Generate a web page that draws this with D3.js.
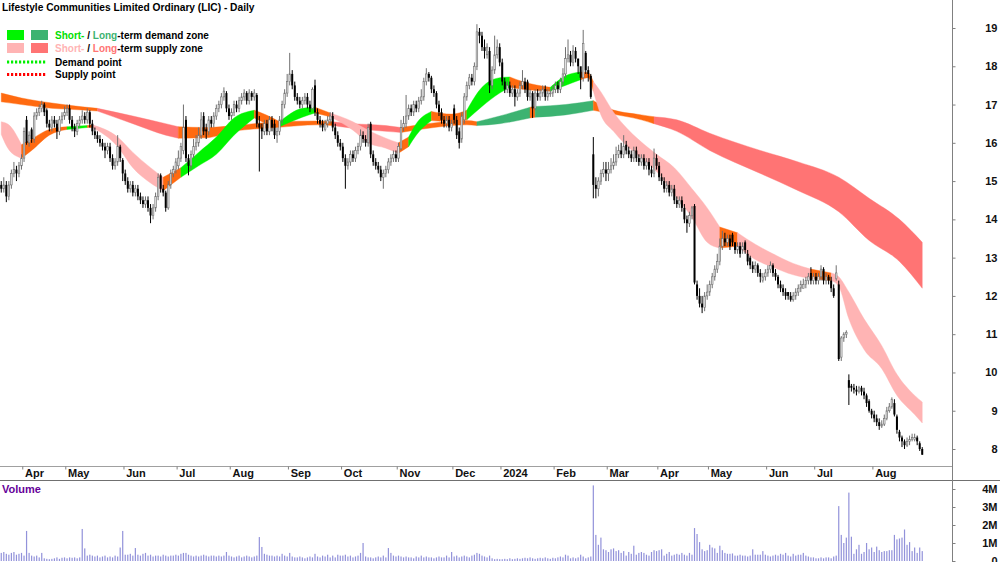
<!DOCTYPE html>
<html>
<head>
<meta charset="utf-8">
<script src="https://cdn.jsdelivr.net/npm/d3@7"></script>
<style>
body { margin: 0; background: #fff; }
text { font-family: "Liberation Sans", Arial, sans-serif; }
</style>
</head>
<body>
<script>
// ASX trading days shown on the chart
var firstDay = "2023-03-21", lastDay = "2024-08-28";
var holidays = ["2023-04-07","2023-04-10","2023-04-25","2023-06-12","2023-12-25","2023-12-26",
                "2024-01-01","2024-01-26","2024-03-29","2024-04-01","2024-04-25","2024-06-10"];
var monthNames = ["Jan","Feb","Mar","Apr","May","Jun","Jul","Aug","Sep","Oct","Nov","Dec"];
var priceTicks = [8, 9, 10, 11, 12, 13, 14, 15, 16, 17, 18, 19];
var volumeTicks = [0, 1, 2, 3, 4];

var openV = [
 14.9,14.8,14.9,14.6,14.9,15.2,15.3,15.2,15.4,
 15.6,16.6,16.0,16.35,16.1,16.7,16.8,16.9,17.0,16.85,16.5,16.4,16.6,16.5,16.3,16.6,16.7,
 16.8,16.9,16.6,16.4,16.3,16.5,16.6,16.7,16.6,16.8,16.5,16.3,16.2,16.1,16.0,15.9,15.8,15.9,15.6,15.4,15.5,15.9,15.55,
 15.2,15.0,14.8,14.9,14.7,14.8,14.6,14.5,14.4,14.5,14.3,14.1,14.3,14.6,15.15,14.8,14.7,14.3,14.9,15.2,15.3,
 15.4,15.6,15.8,16.6,15.6,15.4,15.7,15.9,16.0,16.2,16.7,16.35,16.3,16.6,16.5,16.7,16.9,17.0,17.2,17.3,16.9,
 16.7,16.8,17.0,16.9,17.1,17.2,17.3,17.1,17.3,17.2,17.25,16.5,16.4,16.3,16.5,16.3,16.6,16.5,16.2,16.3,16.6,17.0,17.3,
 17.6,17.8,17.5,17.2,17.1,17.0,17.1,17.2,17.0,16.9,17.5,16.8,16.6,16.5,16.35,16.5,16.6,16.7,16.4,16.2,16.0,
 15.9,15.6,15.4,15.5,15.7,15.6,15.8,15.9,16.2,16.1,16.0,16.5,15.7,15.5,15.4,15.3,15.1,15.2,15.3,15.5,15.6,15.7,
 15.6,15.85,16.4,16.5,16.7,16.9,16.8,17.0,16.9,17.1,17.2,17.6,17.8,17.7,17.4,17.3,17.0,16.8,16.6,16.5,16.6,16.4,
 16.9,16.6,16.3,16.1,16.6,17.2,17.5,17.7,17.6,18.0,18.9,18.8,18.5,18.3,18.4,17.5,17.9,18.3,18.5,
 18.1,17.6,17.4,17.5,17.3,17.4,17.2,17.3,17.5,17.6,17.6,17.2,17.3,16.9,17.3,17.2,17.3,17.4,17.2,17.3,17.3,
 17.4,17.5,17.4,17.6,17.8,18.2,18.3,18.1,18.4,18.2,18.0,17.7,18.35,17.9,17.75,15.7,14.9,14.8,15.0,15.2,15.3,
 15.2,15.3,15.4,15.5,15.7,15.8,15.7,15.95,15.8,15.7,15.6,15.8,15.6,15.5,15.6,15.4,15.5,15.3,15.2,15.6,
 15.4,15.1,15.0,14.8,14.9,14.7,14.8,14.5,14.4,14.5,14.3,14.0,13.9,14.1,14.35,12.3,12.0,11.8,11.7,12.0,
 12.1,12.3,12.5,12.7,12.9,13.3,13.5,13.4,13.5,13.6,13.4,13.2,13.3,13.2,13.4,13.1,13.0,12.8,12.7,12.8,12.6,12.4,12.5,
 12.6,12.7,12.8,12.6,12.5,12.3,12.2,12.1,12.1,12.0,11.9,12.0,12.1,12.2,12.2,12.3,12.4,12.6,12.4,
 12.5,12.4,12.5,12.7,12.4,12.5,12.4,12.2,12.45,12.3,10.4,10.9,11.0,9.8,9.65,9.6,9.55,9.5,9.6,9.5,9.4,9.25,9.0,
 8.9,8.8,8.7,8.6,8.65,8.8,9.0,9.1,9.2,8.85,8.45,8.3,8.2,8.1,8.2,8.25,8.25,8.3,8.15,8.0
];
var highV = [
 15.0,15.1,15.0,15.0,15.3,15.5,15.4,15.5,15.7,
 16.4,16.7,16.3,16.4,16.8,16.9,17.0,17.1,17.05,16.9,16.6,16.7,16.7,16.6,16.7,16.8,16.95,
 17.0,17.0,16.7,16.5,16.6,16.7,16.85,16.8,16.9,16.85,16.6,16.4,16.3,16.2,16.1,16.0,16.0,16.0,15.7,15.6,16.2,15.95,15.6,
 15.3,15.1,15.0,15.0,14.9,14.9,14.7,14.6,14.6,14.6,14.4,14.4,14.7,15.2,15.2,14.9,14.75,15.0,15.3,15.4,15.6,
 15.8,16.0,17.0,16.7,15.7,15.8,16.1,16.2,16.4,16.8,16.8,16.5,16.7,16.7,16.8,17.0,17.1,17.3,17.45,17.35,17.0,
 16.9,17.1,17.1,17.2,17.3,17.4,17.35,17.4,17.35,17.4,17.3,16.7,16.5,16.6,16.6,16.7,16.7,16.6,16.4,16.7,17.1,17.4,17.8,
 18.35,17.9,17.6,17.3,17.2,17.2,17.3,17.3,17.1,17.45,17.65,16.9,16.7,16.6,16.6,16.7,16.8,16.8,16.5,16.3,16.1,
 16.0,15.7,15.6,15.8,15.8,15.9,16.0,16.35,16.3,16.2,16.5,16.55,15.8,15.6,15.5,15.4,15.3,15.4,15.6,15.7,15.8,15.8,
 16.0,16.6,16.7,17.25,17.0,17.0,17.1,17.1,17.2,17.4,17.7,17.95,17.85,17.75,17.5,17.35,17.1,16.9,16.7,16.7,16.7,16.6,
 17.0,16.7,16.4,16.8,17.3,17.6,17.8,17.8,18.1,19.1,19.0,18.9,18.7,18.6,18.5,18.0,18.8,18.7,18.6,
 18.2,17.7,17.6,17.6,17.5,17.5,17.4,17.6,17.9,17.7,17.65,17.4,17.35,17.4,17.4,17.4,17.5,17.5,17.4,17.4,17.5,
 17.6,17.6,17.7,17.95,18.5,18.7,18.4,18.55,18.5,18.2,17.9,18.95,18.4,18.0,17.8,16.15,15.1,15.1,15.3,15.5,15.5,
 15.5,15.6,15.7,15.9,15.95,16.0,16.2,16.05,15.9,15.8,15.9,15.9,15.7,15.7,15.7,15.6,15.6,15.4,15.85,15.7,
 15.5,15.2,15.1,15.0,15.0,14.9,14.9,14.6,14.6,14.6,14.4,14.1,14.2,14.35,14.4,12.4,12.2,12.0,12.1,12.3,
 12.4,12.6,12.8,13.1,13.5,13.7,13.65,13.6,13.6,13.65,13.4,13.4,13.4,13.4,13.45,13.2,13.05,12.9,12.9,12.85,12.7,12.6,12.7,
 12.8,12.9,12.85,12.7,12.55,12.4,12.3,12.2,12.1,12.1,12.1,12.2,12.3,12.4,12.45,12.5,12.6,12.75,12.6,
 12.6,12.6,12.8,12.75,12.6,12.55,12.5,12.3,12.8,12.4,10.95,11.05,11.1,9.95,9.7,9.7,9.65,9.65,9.65,9.6,9.45,9.3,9.05,
 9.0,8.9,8.8,8.75,8.9,9.1,9.2,9.35,9.3,8.9,8.5,8.35,8.25,8.3,8.35,8.4,8.4,8.35,8.2,8.05
];
var lowV = [
 14.7,14.7,14.45,14.5,14.8,15.1,15.0,15.1,15.3,
 15.5,15.95,15.9,16.0,16.0,16.6,16.7,16.8,16.7,16.4,16.3,16.3,16.4,16.1,16.2,16.5,16.6,
 16.7,16.5,16.3,16.15,16.2,16.4,16.5,16.5,16.5,16.4,16.2,16.1,16.0,15.9,15.8,15.6,15.7,15.5,15.3,15.3,15.4,15.5,15.0,
 14.9,14.7,14.7,14.6,14.6,14.5,14.4,14.3,14.3,14.2,13.9,14.0,14.2,14.5,14.7,14.6,14.2,14.25,14.8,15.1,15.2,
 15.3,15.5,15.7,15.5,15.15,15.3,15.6,15.8,15.9,16.1,16.2,16.1,16.2,16.4,16.4,16.6,16.8,16.9,17.1,16.8,16.6,
 16.6,16.7,16.8,16.8,17.0,17.1,17.0,17.0,17.1,17.1,16.4,15.25,16.1,16.2,16.2,16.2,16.3,16.1,16.0,16.2,16.5,16.9,17.2,
 17.5,17.4,17.1,17.0,16.9,16.9,17.0,16.9,16.8,16.85,16.7,16.5,16.4,16.3,16.3,16.4,16.5,16.3,16.1,15.9,15.8,
 15.5,14.8,15.3,15.4,15.5,15.5,15.7,15.8,16.0,15.9,15.9,15.6,15.4,15.3,15.2,15.0,14.8,15.1,15.2,15.4,15.5,15.5,
 15.5,15.8,16.3,16.4,16.6,16.7,16.7,16.8,16.8,17.0,17.1,17.5,17.6,17.3,17.2,16.9,16.7,16.5,16.4,16.4,16.3,16.3,
 16.5,16.1,15.85,16.0,16.5,17.1,17.4,17.5,17.5,17.9,18.6,18.4,18.2,18.2,17.3,17.4,17.8,18.2,18.0,
 17.5,17.3,17.3,17.2,17.2,16.95,17.1,17.2,17.4,17.3,17.1,17.1,16.65,16.85,17.1,17.1,17.2,17.1,17.1,17.2,17.2,
 17.3,17.3,17.3,17.5,17.7,18.1,18.0,18.0,18.1,17.8,17.4,17.6,17.8,17.6,17.15,14.55,14.55,14.6,14.9,15.1,15.0,
 15.0,15.2,15.3,15.4,15.6,15.6,15.6,15.7,15.6,15.5,15.5,15.5,15.4,15.4,15.3,15.3,15.15,15.1,15.1,15.3,
 15.0,14.9,14.7,14.7,14.6,14.6,14.4,14.3,14.3,14.2,13.9,13.65,13.8,14.0,12.3,11.9,11.7,11.55,11.6,11.9,
 12.0,12.2,12.4,12.6,12.8,13.2,13.3,13.3,13.2,13.3,13.1,13.1,13.0,13.1,13.1,12.8,12.7,12.6,12.6,12.5,12.35,12.35,12.4,
 12.5,12.6,12.5,12.4,12.2,12.1,12.0,11.9,11.9,11.85,11.85,11.9,12.0,12.1,12.2,12.2,12.3,12.3,12.3,
 12.3,12.3,12.4,12.3,12.3,12.3,12.1,11.95,12.4,10.3,10.3,10.8,10.9,9.15,9.5,9.45,9.4,9.45,9.4,9.3,9.1,8.95,8.8,
 8.7,8.6,8.5,8.55,8.6,8.75,8.95,9.05,8.85,8.4,8.2,8.05,8.0,8.05,8.1,8.2,8.2,8.1,7.95,7.85
];
var closeV = [
 14.8,14.9,14.6,14.9,15.2,15.3,15.2,15.4,15.6,
 16.3,16.0,16.2,16.1,16.7,16.8,16.9,17.0,16.8,16.5,16.4,16.6,16.5,16.3,16.6,16.7,16.8,
 16.9,16.6,16.4,16.3,16.5,16.6,16.7,16.6,16.8,16.5,16.3,16.2,16.1,16.0,15.9,15.8,15.9,15.6,15.4,15.5,15.9,15.6,15.2,
 15.0,14.8,14.9,14.7,14.8,14.6,14.5,14.4,14.5,14.3,14.1,14.3,14.6,15.1,14.8,14.7,14.3,14.9,15.2,15.3,15.5,
 15.6,15.9,16.4,15.6,15.4,15.7,15.9,16.0,16.2,16.6,16.3,16.3,16.6,16.5,16.7,16.9,17.0,17.2,17.35,16.9,16.7,
 16.8,17.0,16.9,17.1,17.2,17.3,17.1,17.3,17.2,17.3,16.5,16.4,16.3,16.5,16.3,16.6,16.4,16.2,16.3,16.6,17.0,17.3,17.6,
 17.8,17.5,17.2,17.1,17.0,17.1,17.2,17.0,16.9,17.4,16.8,16.6,16.5,16.4,16.5,16.6,16.7,16.4,16.2,16.0,15.9,
 15.6,15.4,15.5,15.7,15.6,15.8,15.9,16.2,16.1,16.0,16.4,15.7,15.5,15.4,15.3,15.1,15.2,15.3,15.5,15.6,15.7,15.6,
 15.9,16.4,16.5,16.7,16.9,16.8,17.0,16.9,17.1,17.2,17.6,17.8,17.7,17.4,17.3,17.0,16.8,16.6,16.5,16.6,16.4,16.5,
 16.6,16.2,16.0,16.7,17.2,17.5,17.7,17.6,18.0,18.9,18.8,18.5,18.4,18.5,17.5,17.9,18.3,18.5,18.1,
 17.6,17.4,17.5,17.3,17.4,17.2,17.3,17.5,17.6,17.4,17.2,17.3,16.9,17.3,17.2,17.3,17.4,17.2,17.3,17.3,17.4,
 17.5,17.4,17.6,17.8,18.2,18.3,18.1,18.4,18.2,18.0,17.7,18.6,17.9,17.8,17.2,14.9,14.8,15.0,15.2,15.3,15.2,
 15.3,15.4,15.5,15.7,15.8,15.7,15.9,15.8,15.7,15.6,15.8,15.6,15.5,15.6,15.4,15.5,15.3,15.2,15.6,15.4,
 15.1,15.0,14.8,14.9,14.7,14.8,14.5,14.4,14.5,14.3,14.0,13.9,14.1,14.3,12.35,12.0,11.8,11.7,12.0,12.1,
 12.3,12.5,12.7,12.9,13.3,13.5,13.4,13.5,13.3,13.4,13.2,13.3,13.1,13.3,13.2,12.9,12.8,12.7,12.8,12.6,12.5,12.5,12.6,
 12.7,12.8,12.6,12.5,12.3,12.2,12.1,12.0,12.0,11.9,12.0,12.1,12.2,12.3,12.3,12.4,12.5,12.4,12.5,
 12.4,12.5,12.7,12.4,12.5,12.4,12.2,12.0,12.6,10.35,10.9,11.0,11.05,9.6,9.6,9.55,9.5,9.6,9.5,9.4,9.2,9.0,8.9,
 8.8,8.7,8.6,8.65,8.8,9.0,9.1,9.3,8.9,8.5,8.3,8.2,8.1,8.2,8.25,8.3,8.3,8.2,8.0,7.85
];
// volume in millions of shares
var volumeV = [
 0.45,0.5,0.4,0.35,0.45,0.5,0.35,0.4,0.45,
 0.3,1.67,0.45,0.3,0.25,0.3,0.2,0.45,0.15,0.12,0.1,0.12,0.15,0.2,0.12,0.18,0.2,
 0.15,0.2,0.18,0.2,0.15,0.2,1.78,0.7,0.3,0.35,0.3,0.25,0.3,0.2,0.25,0.3,0.2,0.25,0.2,0.3,0.25,0.75,1.67,
 0.35,0.35,0.4,0.3,0.72,0.35,0.3,0.4,0.45,0.3,0.35,0.25,0.3,0.3,0.25,0.35,0.3,0.25,0.3,0.3,0.35,
 0.3,0.4,0.45,0.45,0.35,0.3,0.25,0.3,0.25,0.3,0.35,0.3,0.25,0.3,0.3,0.25,0.3,0.25,0.3,0.5,0.3,
 0.25,0.2,0.25,0.3,0.2,0.25,0.3,0.25,0.2,0.25,0.3,1.33,0.78,0.4,0.35,0.3,0.3,0.25,0.3,0.25,0.4,0.3,0.25,
 0.45,0.25,0.2,0.2,0.25,0.2,0.15,0.2,0.25,0.2,0.4,0.25,0.2,0.3,0.25,0.35,0.2,0.3,0.2,0.35,0.3,
 0.3,0.35,0.25,0.3,0.2,0.25,0.3,0.45,1.0,0.25,0.2,0.2,0.15,0.2,0.25,0.2,0.3,0.2,0.72,0.45,0.3,0.25,
 0.3,0.25,0.2,0.25,0.2,0.2,0.15,0.25,0.2,0.3,0.2,0.25,0.2,0.2,0.15,0.2,0.25,0.2,0.2,0.3,0.2,0.5,
 0.25,0.3,0.2,0.25,0.3,0.25,0.2,0.3,0.35,0.45,0.4,0.3,0.25,0.2,0.3,0.15,0.1,0.12,0.1,
 0.1,0.12,0.1,0.15,0.1,0.12,0.15,0.12,0.15,0.18,0.15,0.2,0.15,0.12,0.15,0.18,0.15,0.2,0.15,0.12,0.18,
 0.15,0.2,0.25,0.2,0.35,0.3,0.15,0.2,0.15,0.2,0.35,0.25,0.15,0.2,0.25,4.2,1.45,0.9,1.3,0.65,0.6,
 0.5,0.65,0.7,0.55,0.6,0.45,0.55,0.3,0.5,0.4,0.85,0.35,0.45,0.5,0.45,0.35,0.3,0.5,0.6,0.55,
 0.6,0.65,0.3,0.4,0.5,0.3,0.35,0.4,0.35,0.45,0.35,0.3,0.45,0.35,1.83,1.5,1.05,0.65,0.55,0.6,
 0.9,0.75,0.7,0.45,0.85,0.6,0.45,0.4,0.4,0.42,0.3,0.3,0.35,0.3,0.3,0.25,0.3,0.65,0.35,0.35,0.35,0.55,0.35,
 0.3,0.25,0.3,0.35,0.3,0.4,0.35,0.45,0.3,0.25,0.4,0.3,0.35,0.35,0.45,0.3,0.25,0.2,0.2,
 0.15,0.15,0.2,0.15,0.2,0.2,0.15,0.25,0.3,3.05,1.45,1.0,1.3,3.8,1.35,0.4,0.65,0.9,0.4,0.5,1.0,0.65,0.75,
 0.5,0.8,0.6,0.5,0.55,0.55,0.6,0.6,1.45,1.2,1.25,1.3,1.75,0.9,1.05,0.55,0.75,0.45,0.75,0.55
];

// zone edges read at chosen bars; state d = demand, s = supply, n = neutral
var stBar    = [0,3,8,12,19,26,34,36,46,52,59,64,71,78,85,92,100,105,110,119,124,130,139,145,152,157,161,164,170,178,184,190,197,201,206,217,223,229,232,234,237,242,246,253,259,266,273,279,284,291,298,305,313,320,328,331,335,341,348,354,361,364];
var stTop    = [16.55,16.47,15.95,16.1,16.35,16.42,16.45,16.47,16.15,15.75,15.35,15.1,15.35,15.75,16.15,16.65,16.85,16.72,16.55,16.9,16.93,16.78,16.55,16.33,16.12,16.0,16.15,16.5,16.82,16.75,16.85,17.45,17.7,17.72,17.6,17.45,17.75,17.85,17.83,17.6,17.33,16.8,16.47,16.02,15.7,15.35,14.8,14.3,13.8,13.65,13.35,13.1,12.85,12.7,12.6,12.5,12.1,11.4,10.7,9.95,9.4,9.23];
var stBottom = [16.22,15.82,15.6,15.8,16.2,16.35,16.4,16.4,15.9,15.35,14.95,14.75,15.1,15.4,15.7,16.2,16.65,16.5,16.42,16.67,16.78,16.68,16.33,16.0,15.86,15.73,15.9,16.2,16.58,16.55,16.6,16.95,17.3,17.45,17.4,17.35,17.5,17.65,17.7,17.35,16.73,16.3,16.0,15.6,15.25,14.65,14.05,13.4,13.25,13.3,12.95,12.75,12.55,12.45,12.4,12.25,11.4,10.6,10.1,9.4,8.9,8.68];
var stState  = ["s","s","n","n","n","d","n","s","s","s","s","n","d","d","d","d","n","n","d","d","n","s","s","s","s","n","d","d","n","n","d","d","d","n","n","d","d","n","n","s","s","s","s","s","s","s","s","s","n","s","s","s","s","n","s","s","s","s","s","s","s","s"];

var ltBar    = [0,8,20,32,38,52,65,70,81,92,109,125,131,139,152,158,171,184,188,197,209,211,223,234,240,253,258,267,280,300,315,331,343,355,364];
var ltTop    = [17.3,17.17,17.04,16.94,16.9,16.7,16.5,16.42,16.4,16.45,16.55,16.57,16.55,16.5,16.45,16.4,16.52,16.58,16.55,16.7,16.93,16.95,17.0,17.1,16.9,16.73,16.68,16.6,16.25,15.8,15.5,15.1,14.55,14.0,13.4];
var ltBottom = [17.07,17.0,16.9,16.86,16.83,16.5,16.2,16.12,16.13,16.3,16.4,16.47,16.45,16.38,16.3,16.27,16.4,16.47,16.45,16.5,16.65,16.67,16.73,16.85,16.77,16.6,16.5,16.3,15.8,15.2,14.75,14.2,13.45,12.9,12.2];
var ltState  = ["n","n","n","n","s","s","s","n","n","n","n","n","s","s","s","n","n","n","d","d","n","d","d","n","n","n","s","s","s","s","s","s","s","s","s"];

var stColors = { d: "#00f400", s: "#ffb4b4", n: "#ff6a10" };
var ltColors = { d: "#3cb371", s: "#ff7474", n: "#ff6a10" };

// ---- trading calendar ----
var holidaySet = new Set(holidays);
var dates = [];
for (var d = new Date(firstDay + "T00:00:00Z"); d <= new Date(lastDay + "T00:00:00Z"); d.setUTCDate(d.getUTCDate() + 1)) {
  var wd = d.getUTCDay(), key = d.toISOString().slice(0, 10);
  if (wd > 0 && wd < 6 && !holidaySet.has(key)) dates.push(key);
}
if (dates.length !== closeV.length) console.error("bars", dates.length, closeV.length);

var bars = dates.map(function(dt, i) {
  return { date: dt, i: i, o: openV[i], h: highV[i], l: lowV[i], c: closeV[i], v: volumeV[i] };
});
var monthStarts = dates.filter(function(dt, i) { return i > 0 && dt.slice(5, 7) !== dates[i - 1].slice(5, 7); });

// ---- layout ----
var WIDTH = 1000, HEIGHT = 562, AXIS_X = 952;

var svg = d3.select("body").append("svg")
  .attr("width", WIDTH).attr("height", HEIGHT)
  .style("display", "block");

var x = d3.scaleBand().domain(dates).range([0, 923.5]);
var xc = function(i) { return x(dates[i]) + x.bandwidth() / 2; };
var yP = d3.scaleLinear().domain([8, 19]).range([449, 28]);
var yV = d3.scaleLinear().domain([0, 4]).range([561, 489]);

// zones
function drawZone(g, idx, top, bot, state, colors) {
  var area = d3.area()
    .x(function(p) { return xc(p.i); })
    .y0(function(p) { return yP(p.b); })
    .y1(function(p) { return yP(p.t); })
    .curve(d3.curveMonotoneX);
  var n = idx.length, k = 0;
  while (k < n - 1) {
    var j = k;
    while (j + 1 < n - 1 && state[j + 1] === state[k]) j++;
    var pts = d3.range(k, j + 2).map(function(m) { return { i: idx[m], t: top[m], b: bot[m] }; });
    g.append("path").datum(pts).attr("d", area)
      .attr("fill", colors[state[k]]).attr("stroke", colors[state[k]]).attr("stroke-width", 0.4);
    k = j + 1;
  }
}
var zones = svg.append("g");
drawZone(zones, ltBar, ltTop, ltBottom, ltState, ltColors);
drawZone(zones, stBar, stTop, stBottom, stState, stColors);

// candles
var candles = svg.append("g");
candles.selectAll("line").data(bars).enter().append("line")
  .attr("x1", function(b) { return xc(b.i); }).attr("x2", function(b) { return xc(b.i); })
  .attr("y1", function(b) { return yP(b.h); }).attr("y2", function(b) { return yP(b.l); })
  .attr("stroke", function(b) { return b.c >= b.o ? "#707070" : "#000"; })
  .attr("stroke-width", 1);
candles.selectAll("rect").data(bars).enter().append("rect")
  .attr("x", function(b) { return xc(b.i) - (b.c >= b.o ? 0.8 : 1); })
  .attr("width", function(b) { return b.c >= b.o ? 1.6 : 2; })
  .attr("y", function(b) { return yP(Math.max(b.o, b.c)); })
  .attr("height", function(b) { return Math.max(0.8, Math.abs(yP(b.o) - yP(b.c))); })
  .attr("fill", function(b) { return b.c >= b.o ? "#e4e4e4" : "#000"; })
  .attr("stroke", function(b) { return b.c >= b.o ? "#707070" : "none"; })
  .attr("stroke-width", 0.6);

// volume
svg.append("g").selectAll("rect").data(bars).enter().append("rect")
  .attr("x", function(b) { return xc(b.i) - 0.6; })
  .attr("width", 1.2)
  .attr("y", function(b) { return yV(b.v); })
  .attr("height", function(b) { return yV(0) - yV(b.v); })
  .attr("fill", "#9292da");

// frame lines
svg.append("line").attr("x1", 0).attr("x2", AXIS_X).attr("y1", 466.5).attr("y2", 466.5).attr("stroke", "#a0a0a0");
svg.append("line").attr("x1", 0).attr("x2", WIDTH).attr("y1", 480.5).attr("y2", 480.5).attr("stroke", "#707070");
svg.append("line").attr("x1", AXIS_X + 0.5).attr("x2", AXIS_X + 0.5).attr("y1", 0).attr("y2", HEIGHT).attr("stroke", "#808080");

// axes
var xAxis = svg.append("g").attr("transform", "translate(0,466.5)")
  .call(d3.axisBottom(x).tickValues(monthStarts).tickSize(3).tickPadding(0)
    .tickFormat(function(dt) { var m = +dt.slice(5, 7); return m === 1 ? dt.slice(0, 4) : monthNames[m - 1]; }));
xAxis.select(".domain").remove();
xAxis.selectAll(".tick line").attr("stroke", "#808080").attr("transform", "translate(" + (-x.bandwidth() / 2) + ",0)");
xAxis.selectAll(".tick text").attr("text-anchor", "start").attr("dx", 1)
  .style("font-size", "11px").style("font-weight", "bold").attr("fill", "#111");

var pAxis = svg.append("g").attr("transform", "translate(" + (AXIS_X + 0.5) + ",0)")
  .call(d3.axisRight(yP).tickValues(priceTicks).tickSize(3).tickFormat(d3.format("d")));
var vAxis = svg.append("g").attr("transform", "translate(" + (AXIS_X + 0.5) + ",0)")
  .call(d3.axisRight(yV).tickValues(volumeTicks).tickSize(3)
    .tickFormat(function(v) { return v === 0 ? "0" : v + "M"; }));
[pAxis, vAxis].forEach(function(a) {
  a.select(".domain").remove();
  a.selectAll(".tick line").attr("stroke", "#808080");
  a.selectAll(".tick text").attr("text-anchor", "end").attr("x", 45)
    .style("font-size", "11px").style("font-weight", "bold").attr("fill", "#111");
});

// title and legend
svg.append("text").attr("x", 2).attr("y", 11)
  .style("font-size", "10.2px").style("font-weight", "bold").text("Lifestyle Communities Limited Ordinary (LIC) - Daily");

var legend = svg.append("g").style("font-size", "10px").style("font-weight", "bold");
legend.append("rect").attr("x", 7).attr("y", 30).attr("width", 17).attr("height", 10).attr("fill", stColors.d);
legend.append("rect").attr("x", 31).attr("y", 30).attr("width", 17).attr("height", 10).attr("fill", ltColors.d);
legend.append("rect").attr("x", 7).attr("y", 43).attr("width", 17).attr("height", 10).attr("fill", stColors.s);
legend.append("rect").attr("x", 31).attr("y", 43).attr("width", 17).attr("height", 10).attr("fill", ltColors.s);
var t1 = legend.append("text").attr("x", 55).attr("y", 39);
t1.append("tspan").attr("fill", "#00e000").text("Short-");
t1.append("tspan").text(" / ");
t1.append("tspan").attr("fill", ltColors.d).text("Long");
t1.append("tspan").text("-term demand zone");
var t2 = legend.append("text").attr("x", 55).attr("y", 52);
t2.append("tspan").attr("fill", stColors.s).text("Short-");
t2.append("tspan").text(" / ");
t2.append("tspan").attr("fill", ltColors.s).text("Long");
t2.append("tspan").text("-term supply zone");
legend.append("line").attr("x1", 7).attr("x2", 47).attr("y1", 62).attr("y2", 62)
  .attr("stroke", "#00f000").attr("stroke-width", 3).attr("stroke-dasharray", "2.2,1.8");
legend.append("text").attr("x", 55).attr("y", 66).text("Demand point");
legend.append("line").attr("x1", 7).attr("x2", 47).attr("y1", 74.5).attr("y2", 74.5)
  .attr("stroke", "#ff0000").attr("stroke-width", 3).attr("stroke-dasharray", "2.2,1.8");
legend.append("text").attr("x", 55).attr("y", 78).text("Supply point");

svg.append("text").attr("x", 2).attr("y", 493).attr("fill", "#660099")
  .style("font-size", "11px").style("font-weight", "bold").text("Volume");
</script>
</body>
</html>
